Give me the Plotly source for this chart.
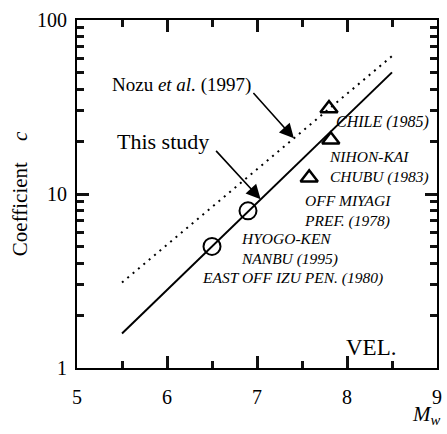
import plotly.graph_objects as go
import numpy as np

# ---- data ----
this_study_M = [5.5, 8.5]
this_study_c = [1.58, 50.0]
nozu_M = [5.5, 8.5]
nozu_c = [3.1, 62.0]

circle_names = ["EAST OFF IZU PEN. (1980)", "HYOGO-KEN NANBU (1995)"]
circle_M = [6.5, 6.9]
circle_c = [5.0, 8.0]

tri_names = ["CHILE (1985)", "NIHON-KAI CHUBU (1983)", "OFF MIYAGI PREF. (1978)"]
tri_M = [7.8, 7.82, 7.58]
tri_c = [31.0, 20.5, 12.4]

x_ticks = [5, 6, 7, 8, 9]
x_minor = [5.5, 6.5, 7.5, 8.5]
y_ticks = [1, 10, 100]
y_minor = [v * d for d in (1, 10) for v in range(2, 10)]

FONT = "Liberation Serif, Times New Roman, serif"
X_RANGE = [5, 9]
Y_RANGE = [0, 2]  # log10

fig = go.Figure()
fig.add_trace(go.Scatter(x=nozu_M, y=nozu_c, mode="lines", xaxis="x2", yaxis="y2",
                         line=dict(color="black", width=2, dash="2px,5px"),
                         showlegend=False, hoverinfo="skip"))
fig.add_trace(go.Scatter(x=this_study_M, y=this_study_c, mode="lines",
                         line=dict(color="black", width=2),
                         showlegend=False, hoverinfo="skip"))
fig.add_trace(go.Scatter(x=circle_M, y=circle_c, mode="markers",
                         marker=dict(symbol="circle-open", size=17, color="black",
                                     line=dict(width=2, color="black")),
                         showlegend=False, hoverinfo="skip"))
fig.add_trace(go.Scatter(x=tri_M, y=tri_c, mode="markers",
                         marker=dict(symbol="triangle-up-open", size=15, color="black",
                                     line=dict(width=2.5, color="black")),
                         showlegend=False, hoverinfo="skip"))

ann = []
def lab(text, x, ly, size=16, italic=True, xanchor="left"):
    t = "<i>" + text + "</i>" if italic else text
    ann.append(dict(x=x, y=ly, xref="x", yref="y", text=t, showarrow=False,
                    xanchor=xanchor, yanchor="middle", align="left",
                    font=dict(family=FONT, size=size, color="black")))

lab("CHILE (1985)", 7.85, 1.414)
lab("NIHON-KAI<br>CHUBU (1983)", 7.78, 1.155, size=15.5)
lab("OFF MIYAGI<br>PREF. (1978)", 7.50, 0.905, size=15.5)
lab("HYOGO-KEN<br>NANBU (1995)", 6.80, 0.685, size=15.5)
lab("EAST OFF IZU PEN. (1980)", 6.37, 0.517, size=15.5)
lab("VEL.", 8.27, 0.115, size=23, italic=False, xanchor="center")
lab("Nozu <i>et al.</i> (1997)", 5.37, 1.626, size=19, italic=False)
lab("This study", 5.42, 1.299, size=22, italic=False)

ann.append(dict(x=7.04, y=0.5 * 7.04 - 2.55, xref="x", yref="y",
                ax=-46, ay=-50, text=" ", showarrow=True, arrowhead=2,
                arrowsize=1.8, arrowwidth=1.6, arrowcolor="black", standoff=0,
                font=dict(size=1)))
nozu_slope = (np.log10(nozu_c[1]) - np.log10(nozu_c[0])) / (nozu_M[1] - nozu_M[0])
ann.append(dict(x=7.41, y=np.log10(nozu_c[0]) + (7.41 - nozu_M[0]) * nozu_slope,
                xref="x", yref="y",
                ax=-42, ay=-47, text=" ", showarrow=True, arrowhead=2,
                arrowsize=1.8, arrowwidth=1.6, arrowcolor="black", standoff=0,
                font=dict(size=1)))

ann.append(dict(x=0.972, y=-0.135, xref="paper", yref="paper",
                text="<i>M</i><sub><i>w</i></sub>", showarrow=False,
                xanchor="center", yanchor="middle",
                font=dict(family=FONT, size=21, color="black")))

common = dict(showline=True, linecolor="black", linewidth=2, mirror="ticks",
              showgrid=False, zeroline=False, tickcolor="#111111", ticks="inside")

fig.update_layout(
    width=447, height=434,
    margin=dict(l=77, r=5, t=20, b=66),
    paper_bgcolor="white", plot_bgcolor="white",
    font=dict(family=FONT, size=20, color="black"),
    annotations=ann,
    xaxis=dict(range=X_RANGE, tickmode="array", tickvals=x_ticks,
               ticktext=[str(v) for v in x_ticks], ticklen=12, tickwidth=3,
               ticklabelstandoff=10,
               tickfont=dict(family=FONT, size=20, color="black"), **common),
    yaxis=dict(type="log", range=Y_RANGE, tickmode="array", tickvals=y_ticks,
               ticktext=[str(v) for v in y_ticks], ticklen=12, tickwidth=3,
               ticklabelstandoff=4,
               tickfont=dict(family=FONT, size=20, color="black"),
               title=dict(text="Coefficient\u00a0\u00a0\u00a0\u00a0<i>c</i>",
                          font=dict(family=FONT, size=21, color="black"), standoff=4),
               **common),
    xaxis2=dict(overlaying="x", side="bottom", anchor="y2", range=X_RANGE,
                tickmode="array", tickvals=x_minor, showticklabels=False,
                ticklen=7, tickwidth=3, **common),
    yaxis2=dict(overlaying="y", side="left", anchor="x2", type="log", range=Y_RANGE,
                tickmode="array", tickvals=y_minor, showticklabels=False,
                ticklen=7, tickwidth=3, **common),
)

fig.write_html("out.html")
